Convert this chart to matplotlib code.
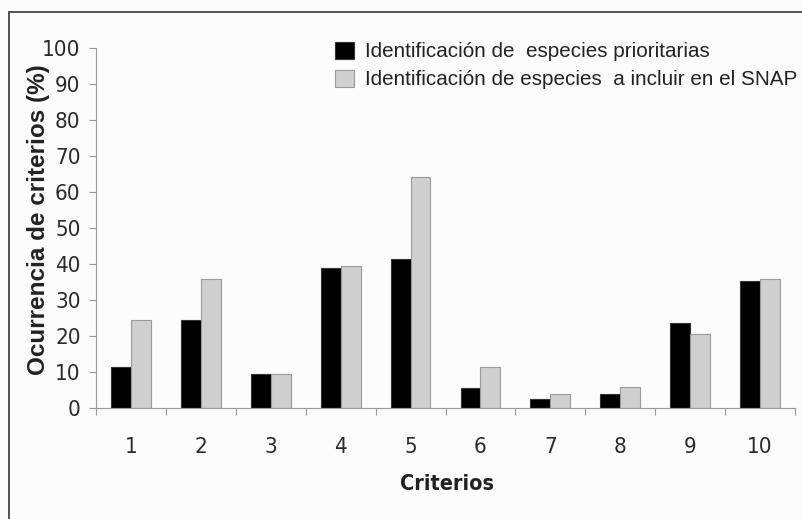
import matplotlib
matplotlib.use("Agg")
import matplotlib.pyplot as plt
from matplotlib.patches import Rectangle
import numpy as np

categories = ["1", "2", "3", "4", "5", "6", "7", "8", "9", "10"]
prioritarias = [11.3, 24.5, 9.4, 38.9, 41.5, 5.5, 2.5, 3.9, 23.6, 35.4]
snap = [24.5, 35.8, 9.4, 39.4, 64.1, 11.3, 3.9, 5.8, 20.6, 35.8]
series_labels = ["Identificación de  especies prioritarias",
                 "Identificación de especies  a incluir en el SNAP"]
yticks = [0, 10, 20, 30, 40, 50, 60, 70, 80, 90, 100]

narrow = ["DejaVu Sans", "Liberation Sans"]
arial = ["Liberation Sans", "DejaVu Sans"]

W, H = 802, 519
fig = plt.figure(figsize=(W / 100, H / 100), dpi=100, facecolor="#fcfcfc")

fig.add_artist(Rectangle((8.5 / W, -0.01), 1.0, 1 - 11.5 / H + 0.01,
                         transform=fig.transFigure, fill=False,
                         edgecolor="#444444", linewidth=1.3))

ax = fig.add_axes([96 / W, 1 - 408 / H, (795 - 96) / W, (408 - 48) / H])
ax.set_facecolor("#fcfcfc")

x = np.arange(1, len(categories) + 1)
bw = 0.285
b1 = ax.bar(x - bw / 2, prioritarias, bw, color="#000000", edgecolor="#333333",
            linewidth=0.8, label=series_labels[0])
b2 = ax.bar(x + bw / 2, snap, bw, color="#cfcfcf", edgecolor="#999999",
            linewidth=0.8, label=series_labels[1])

ax.set_xlim(0.5, len(categories) + 0.5)
ax.set_ylim(0, 100)

for s in ["top", "right"]:
    ax.spines[s].set_visible(False)
ax.spines["left"].set_color("#999999")
ax.spines["bottom"].set_color("#999999")
ax.spines["left"].set_bounds(0, 100)

ax.set_yticks(yticks)
ax.set_yticklabels([str(v) for v in yticks], fontfamily=narrow,
                   fontstretch="condensed", fontsize=16, color="#2a2a2a")
ax.tick_params(axis="y", direction="out", length=5, color="#999999", pad=6)

ax.set_xticks(np.arange(0.5, len(categories) + 1.0, 1.0))
ax.set_xticklabels([])
ax.tick_params(axis="x", which="major", direction="out", length=5,
               color="#999999")
ax.set_xticks(x, minor=True)
ax.set_xticklabels(categories, minor=True, fontfamily=narrow,
                   fontstretch="condensed", fontsize=16, color="#2a2a2a")
ax.tick_params(axis="x", which="minor", length=0, pad=21)

ax.set_ylabel("Ocurrencia de criterios (%)", fontfamily=arial,
              fontweight="bold", fontsize=17.5, color="#222222")
ax.yaxis.set_label_coords(-(96 - 38.5) / (795 - 96), (408 - 220) / (408 - 48))
ax.yaxis.label.set_horizontalalignment("center")
ax.yaxis.label.set_verticalalignment("center")
ax.set_xlabel("Criterios", fontfamily=narrow, fontstretch="condensed",
              fontweight="bold", fontsize=15.5, color="#222222")
ax.xaxis.set_label_coords((447 - 96) / (795 - 96), -(484 - 408) / (408 - 48))
ax.xaxis.label.set_verticalalignment("center")

leg = ax.legend(handles=[b1, b2], loc="upper left",
                bbox_to_anchor=(335 / W, 1 - 41.5 / H),
                bbox_transform=fig.transFigure, frameon=False,
                prop={"family": arial, "size": 14.9},
                handlelength=0.9, handleheight=0.9, handletextpad=0.55,
                borderpad=0, borderaxespad=0, labelspacing=0.4)
for t in leg.get_texts():
    t.set_color("#222222")

fig.savefig("out.png", dpi=100, facecolor=fig.get_facecolor())
